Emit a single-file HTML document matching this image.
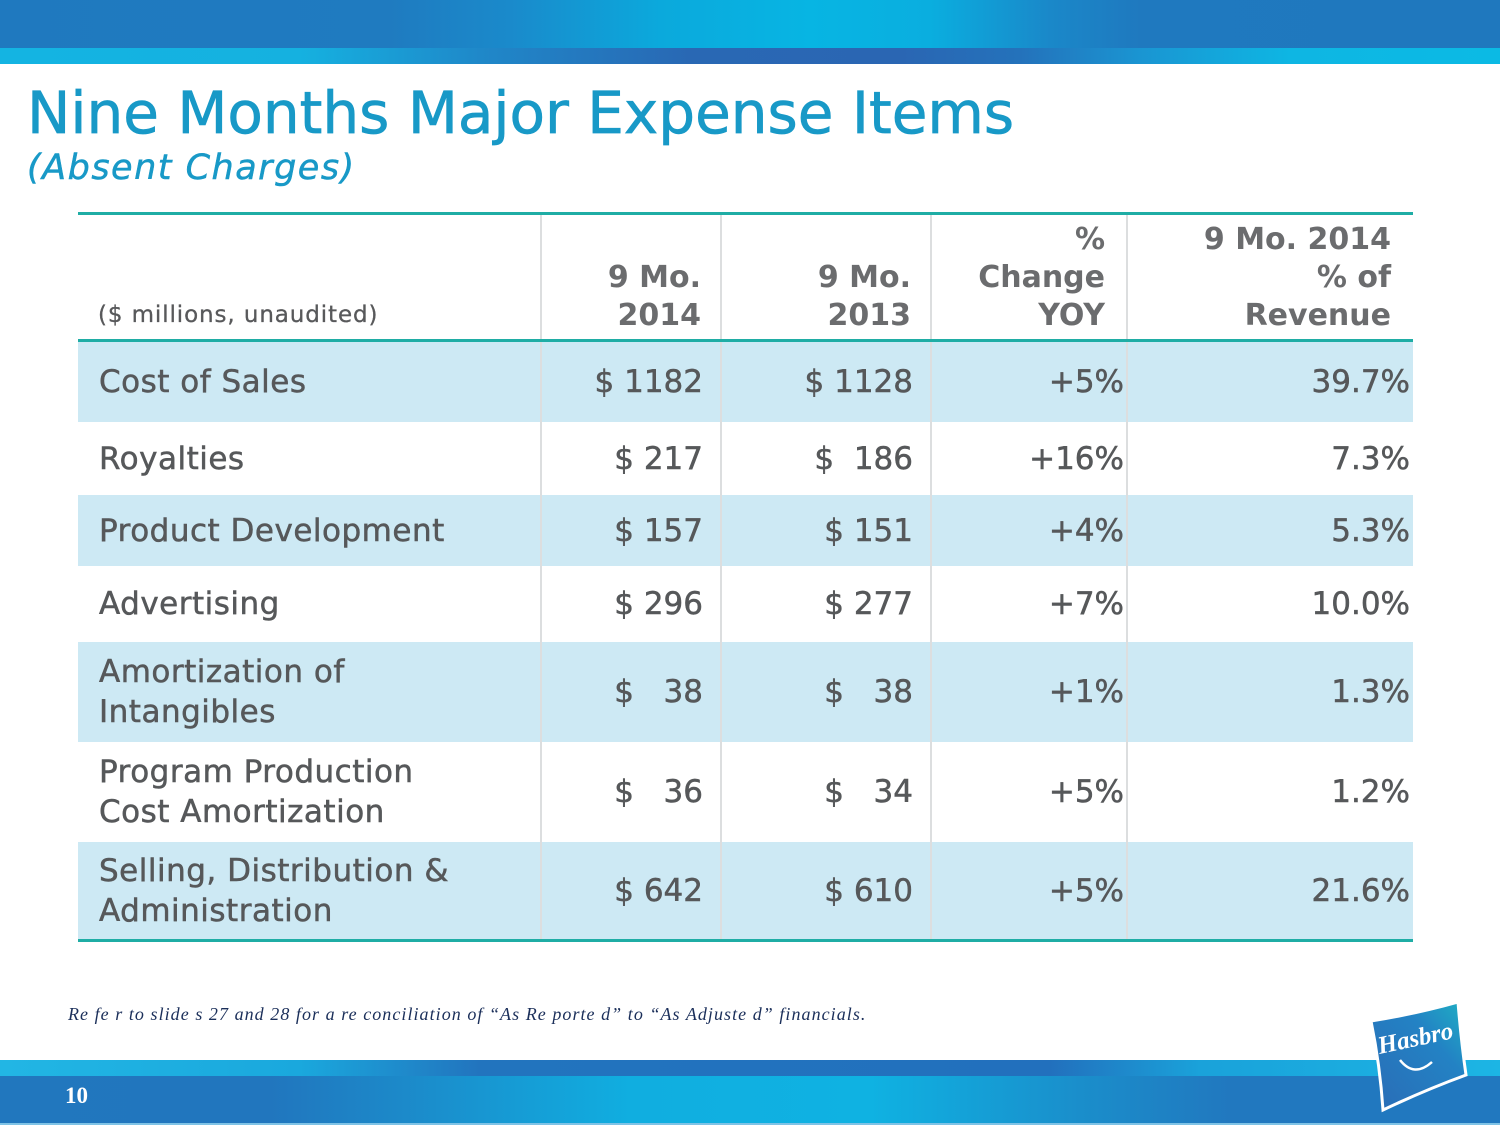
<!DOCTYPE html>
<html><head><meta charset="utf-8">
<style>
*{margin:0;padding:0;box-sizing:border-box}
html,body{width:1500px;height:1125px;overflow:hidden;background:#fff}
body{position:relative;font-family:"DejaVu Sans","Liberation Sans",sans-serif;color:#56585a}
.abs{position:absolute}
.band1{left:0;top:0;width:1500px;height:48px;background:linear-gradient(90deg,#1f79bf 0%,#1f7bc0 26%,#1a8acb 34%,#0ba9dc 44%,#07b5e3 54%,#0aaedf 62%,#1a88c9 70%,#1f79bf 76%,#1f78be 100%)}
.band2{left:0;top:48px;width:1500px;height:16px;background:linear-gradient(90deg,#14b4e2 0%,#15b1e0 20%,#1f88c9 32%,#2968b4 46%,#2a66b3 60%,#2472bb 68%,#1a95d2 76%,#0eb6e3 86%,#0bbae4 100%)}
.fband1{left:0;top:1060px;width:1500px;height:16px;background:linear-gradient(90deg,#22b6e4 0%,#1aa8dd 20%,#2274be 32%,#2270bd 70%,#1aa2da 80%,#1cb5e4 100%)}
.fband2{left:0;top:1076px;width:1500px;height:47px;background:linear-gradient(90deg,#2177be 0%,#2176be 18%,#1b8ccb 28%,#10aee0 42%,#0fb2e2 58%,#1a8ecb 72%,#2178bf 82%,#2178bf 100%)}
.fband3{left:0;top:1123px;width:1500px;height:2px;background:#7fc3e6}
.title{left:27px;top:84px;font-size:58px;line-height:58px;color:#1899c7;white-space:nowrap;-webkit-text-stroke:0.7px #1899c7}
.sub{left:27px;top:151px;font-size:35px;line-height:35px;color:#1899c7;font-style:oblique;letter-spacing:1.5px;white-space:nowrap;-webkit-text-stroke:0.5px #1899c7}
.teal{left:78px;width:1335px;height:3px;background:#1fada5}
.rowbg{left:78px;width:1335px;background:#cde9f4}
.vline{top:215px;height:724px;width:2px;background:#dcdedf}
.hdr{font-weight:bold;font-size:30px;line-height:38px;color:#6b6c6e;text-align:right;white-space:nowrap}
.row{left:78px;width:1335px;display:flex;align-items:center}
.lbl{position:absolute;left:21px;font-size:31px;line-height:40px;letter-spacing:0.5px;white-space:nowrap;-webkit-text-stroke:0.5px #56585a}
.num{position:absolute;font-size:31px;line-height:40px;text-align:right;white-space:pre;-webkit-text-stroke:0.5px #56585a}
.c1{right:710px}
.c2{right:500px}
.c3{right:289px}
.c4{right:3px}
.note{left:68px;top:1004px;font-family:"Liberation Serif",serif;font-style:italic;font-size:18px;line-height:20px;letter-spacing:1.05px;color:#1b2f5a;white-space:nowrap}
.pg{left:65px;top:1084px;font-family:"Liberation Serif",serif;font-weight:bold;font-size:23px;line-height:24px;color:#fff}
</style></head><body>
<div class="abs band1"></div>
<div class="abs band2"></div>

<div class="abs title">Nine Months Major Expense Items</div>
<div class="abs sub">(Absent Charges)</div>

<!-- row backgrounds -->
<div class="abs rowbg" style="top:341px;height:81px"></div>
<div class="abs rowbg" style="top:495px;height:71px"></div>
<div class="abs rowbg" style="top:642px;height:100px"></div>
<div class="abs rowbg" style="top:842px;height:97px"></div>

<!-- vertical dividers -->
<div class="abs vline" style="left:540px"></div>
<div class="abs vline" style="left:720px"></div>
<div class="abs vline" style="left:930px"></div>
<div class="abs vline" style="left:1126px"></div>

<!-- teal rules -->
<div class="abs teal" style="top:212px"></div>
<div class="abs teal" style="top:339px"></div>
<div class="abs teal" style="top:939px"></div>

<!-- header -->
<div class="abs" style="left:98px;top:304px;font-size:23px;line-height:23px;letter-spacing:0.9px;white-space:nowrap;color:#58595b;-webkit-text-stroke:0.3px #58595b">($ millions, unaudited)</div>
<div class="abs hdr" style="right:799px;top:259px">9 Mo.<br>2014</div>
<div class="abs hdr" style="right:589px;top:259px">9 Mo.<br>2013</div>
<div class="abs hdr" style="right:395px;top:221px">%<br>Change<br>YOY</div>
<div class="abs hdr" style="right:109px;top:221px">9 Mo. 2014<br>% of<br>Revenue</div>

<!-- rows -->
<div class="abs row" style="top:341px;height:81px">
  <div class="lbl">Cost of Sales</div>
  <div class="num c1">$ 1182</div><div class="num c2">$ 1128</div><div class="num c3">+5%</div><div class="num c4">39.7%</div>
</div>
<div class="abs row" style="top:422px;height:73px">
  <div class="lbl">Royalties</div>
  <div class="num c1">$ 217</div><div class="num c2">$  186</div><div class="num c3">+16%</div><div class="num c4">7.3%</div>
</div>
<div class="abs row" style="top:495px;height:71px">
  <div class="lbl">Product Development</div>
  <div class="num c1">$ 157</div><div class="num c2">$ 151</div><div class="num c3">+4%</div><div class="num c4">5.3%</div>
</div>
<div class="abs row" style="top:566px;height:76px">
  <div class="lbl">Advertising</div>
  <div class="num c1">$ 296</div><div class="num c2">$ 277</div><div class="num c3">+7%</div><div class="num c4">10.0%</div>
</div>
<div class="abs row" style="top:642px;height:100px">
  <div class="lbl">Amortization of<br>Intangibles</div>
  <div class="num c1">$   38</div><div class="num c2">$   38</div><div class="num c3">+1%</div><div class="num c4">1.3%</div>
</div>
<div class="abs row" style="top:742px;height:100px">
  <div class="lbl">Program Production<br>Cost Amortization</div>
  <div class="num c1">$   36</div><div class="num c2">$   34</div><div class="num c3">+5%</div><div class="num c4">1.2%</div>
</div>
<div class="abs row" style="top:842px;height:97px">
  <div class="lbl">Selling, Distribution &amp;<br>Administration</div>
  <div class="num c1">$ 642</div><div class="num c2">$ 610</div><div class="num c3">+5%</div><div class="num c4">21.6%</div>
</div>

<div class="abs note">Re fe r to slide s 27 and 28 for a re conciliation of “As Re porte d” to “As Adjuste d” financials.</div>

<div class="abs fband1"></div>
<div class="abs fband2"></div>
<div class="abs fband3"></div>
<div class="abs pg">10</div>

<svg class="abs" style="left:0;top:0" width="1500" height="1125" viewBox="0 0 1500 1125">
  <defs>
    <linearGradient id="lg" x1="1" y1="0" x2="0" y2="1">
      <stop offset="0" stop-color="#1eb0c4"/>
      <stop offset="0.35" stop-color="#2382c4"/>
      <stop offset="1" stop-color="#2a6cb6"/>
    </linearGradient>
  </defs>
  <path d="M1371,1021 Q1415,1014 1458,1002 Q1461,1040 1466,1075 Q1425,1090 1383,1110 Q1380,1065 1371,1021 Z" fill="url(#lg)" stroke="#ffffff" stroke-width="3"/>
  <text x="1417" y="1046" transform="rotate(-12 1417 1046)" text-anchor="middle" font-family="Liberation Serif, serif" font-style="italic" font-weight="bold" font-size="25" fill="#ffffff">Hasbro</text>
  <path d="M1400,1060 Q1414,1078 1432,1062" fill="none" stroke="#ffffff" stroke-width="2.5"/>
</svg>
</body></html>
